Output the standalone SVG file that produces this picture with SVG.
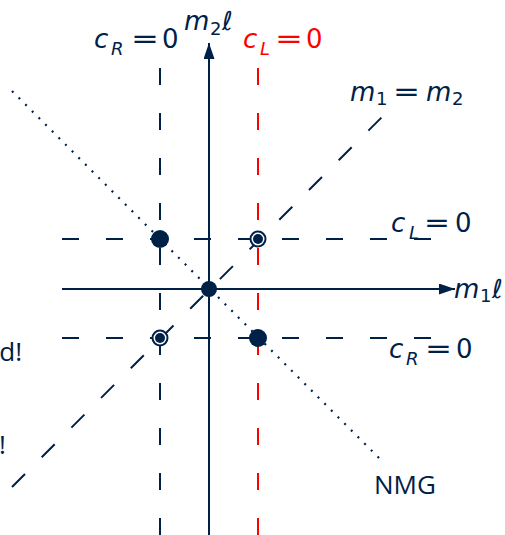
<svg xmlns="http://www.w3.org/2000/svg" width="505" height="535" viewBox="0 0 505 535">
<style>
.nv{stroke:#002147;fill:none;stroke-width:2}
.rd{stroke:#ff0000;fill:none;stroke-width:2}
.vd{stroke-dasharray:17 28}
.hd{stroke-dasharray:17 27}
.dg{stroke-dasharray:18.4 23.6}
.dt{stroke:#002147;fill:none;stroke-width:2.2;stroke-dasharray:2 7.4}
.m{font-family:"DejaVu Sans",sans-serif;font-size:26px;fill:#002147}
.mi{font-style:italic}
.sub{font-size:18px}
.t{font-family:"Open Sans","DejaVu Sans",sans-serif;font-size:26px;fill:#002147}
.red{fill:#ff0000}
.dot{fill:#002147}
.ring{fill:#fff;stroke:#002147;stroke-width:2}
</style>
<defs>
<marker id="ah" viewBox="0 0 16 11" refX="16" refY="5.5" markerWidth="16" markerHeight="11" markerUnits="userSpaceOnUse" orient="auto">
<path d="M0,0 L16,5.5 L0,11 Z" fill="#002147"/>
</marker>
</defs>
<g id="connectors">
<line class="nv vd" x1="160" y1="68" x2="160" y2="535"/>
<line class="rd vd" x1="258" y1="68" x2="258" y2="535"/>
<line class="nv hd" x1="62" y1="239" x2="440" y2="239"/>
<line class="nv hd" x1="62" y1="338" x2="440" y2="338"/>
<line class="nv dg" x1="12" y1="487" x2="384" y2="115"/>
<line class="dt" x1="12" y1="91" x2="383" y2="462"/>
<line class="nv" x1="209" y1="535" x2="209" y2="43" marker-end="url(#ah)"/>
<line class="nv" x1="62" y1="289" x2="455" y2="289" marker-end="url(#ah)"/>
</g>
<g id="points">
<circle class="dot" cx="160" cy="239" r="9"/>
<circle class="dot" cx="258" cy="338" r="9"/>
<circle class="dot" cx="209" cy="289" r="8"/>
<circle class="ring" cx="258" cy="239" r="7.5"/>
<circle class="dot" cx="258" cy="239" r="5"/>
<circle class="ring" cx="160" cy="338" r="7.5"/>
<circle class="dot" cx="160" cy="338" r="5"/>
</g>
<g id="labels">
<text class="m"><tspan class="mi" x="94" y="48">c</tspan><tspan class="mi sub" x="111" y="55">R</tspan><tspan x="131" y="48" textLength="28" lengthAdjust="spacingAndGlyphs">=</tspan><tspan x="162" y="48">0</tspan></text>
<text class="m"><tspan class="mi" x="184" y="30">m</tspan><tspan class="sub" x="210" y="35">2</tspan><tspan class="mi" x="222" y="30">ℓ</tspan></text>
<text class="m red"><tspan class="mi" x="243" y="48">c</tspan><tspan class="mi sub" x="260" y="55">L</tspan><tspan x="275" y="48" textLength="28" lengthAdjust="spacingAndGlyphs">=</tspan><tspan x="306" y="48">0</tspan></text>
<text class="m"><tspan class="mi" x="350" y="101">m</tspan><tspan class="sub" x="376" y="105">1</tspan><tspan x="393" y="101" textLength="27" lengthAdjust="spacingAndGlyphs">=</tspan><tspan class="mi" x="426" y="101">m</tspan><tspan class="sub" x="452" y="105">2</tspan></text>
<text class="m"><tspan class="mi" x="391" y="232">c</tspan><tspan class="mi sub" x="409" y="239">L</tspan><tspan x="424" y="232" textLength="26" lengthAdjust="spacingAndGlyphs">=</tspan><tspan x="455" y="232">0</tspan></text>
<text class="m"><tspan class="mi" x="454" y="298">m</tspan><tspan class="sub" x="480" y="302">1</tspan><tspan class="mi" x="492" y="298">ℓ</tspan></text>
<text class="m"><tspan class="mi" x="389" y="358">c</tspan><tspan class="mi sub" x="406" y="365">R</tspan><tspan x="425" y="358" textLength="27" lengthAdjust="spacingAndGlyphs">=</tspan><tspan x="456" y="358">0</tspan></text>
<text class="t" x="22" y="361" text-anchor="end">d!</text>
<text class="t" x="-1" y="454">!</text>
<text class="t" x="374" y="494">NMG</text>
</g>
</svg>
